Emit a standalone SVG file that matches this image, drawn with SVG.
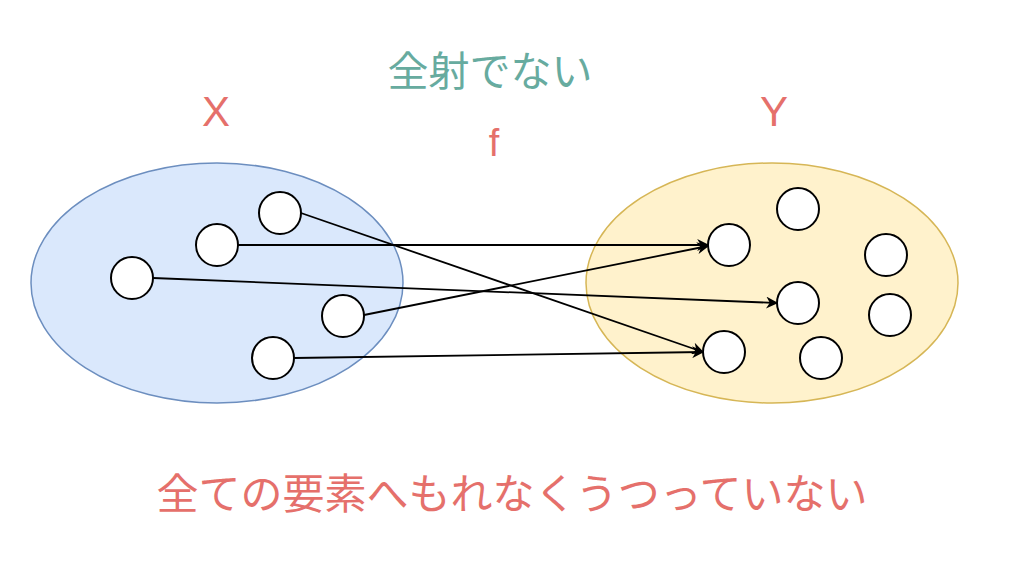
<svg xmlns="http://www.w3.org/2000/svg" width="1024" height="566" viewBox="0 0 1024 566">
<defs>
<style>
.set-x{fill:#dae8fc;stroke:#6c8ebf;stroke-width:1.5}
.set-y{fill:#fff2cc;stroke:#d6b656;stroke-width:1.5}
.el{fill:#ffffff;stroke:#000000;stroke-width:2}
.edge{fill:none;stroke:#000000;stroke-width:1.8;marker-end:url(#arr)}
.lbl{font-family:"Liberation Sans","Noto Sans CJK JP",sans-serif;text-anchor:middle}
.red{fill:#e5706b}
.teal{fill:#67ab9f}
</style>
<marker id="arr" viewBox="0 0 10 10" refX="9" refY="5" markerWidth="15" markerHeight="12" markerUnits="userSpaceOnUse" orient="auto">
<path d="M0,0 L10,5 L0,10 L3,5 Z" fill="#000"/>
</marker>
</defs>
<rect width="1024" height="566" fill="#ffffff"/>
<g id="setX"><ellipse class="set-x" cx="217" cy="283" rx="186" ry="120"/></g>
<g id="setY"><ellipse class="set-y" cx="772" cy="283" rx="186" ry="120"/></g>
<g id="connectors">
<line class="edge" x1="301" y1="213" x2="703" y2="352"/>
<line class="edge" x1="238" y1="245" x2="708" y2="245"/>
<line class="edge" x1="153" y1="278" x2="777" y2="303"/>
<line class="edge" x1="364" y1="315" x2="708" y2="246"/>
<line class="edge" x1="294" y1="358" x2="703" y2="352"/>
</g>
<g id="x1"><circle class="el" cx="280" cy="213" r="21"/></g>
<g id="x2"><circle class="el" cx="217" cy="245" r="21"/></g>
<g id="x3"><circle class="el" cx="132" cy="278" r="21"/></g>
<g id="x4"><circle class="el" cx="343" cy="316" r="21"/></g>
<g id="x5"><circle class="el" cx="273" cy="358" r="21"/></g>
<g id="y1"><circle class="el" cx="729" cy="245" r="21"/></g>
<g id="y2"><circle class="el" cx="798" cy="209" r="21"/></g>
<g id="y3"><circle class="el" cx="886" cy="255" r="21"/></g>
<g id="y4"><circle class="el" cx="798" cy="303" r="21"/></g>
<g id="y5"><circle class="el" cx="890" cy="315" r="21"/></g>
<g id="y6"><circle class="el" cx="724" cy="352" r="21"/></g>
<g id="y7"><circle class="el" cx="821" cy="358" r="21"/></g>
<g id="labels">
<text class="lbl teal" x="490" y="86" font-size="41">全射でない</text>
<text class="lbl red" x="494" y="156" font-size="38">f</text>
<text class="lbl red" x="216" y="126" font-size="42">X</text>
<text class="lbl red" x="774" y="126" font-size="42">Y</text>
<text class="lbl red" x="512" y="509" font-size="42">全ての要素へもれなくうつっていない</text>
</g>
</svg>
